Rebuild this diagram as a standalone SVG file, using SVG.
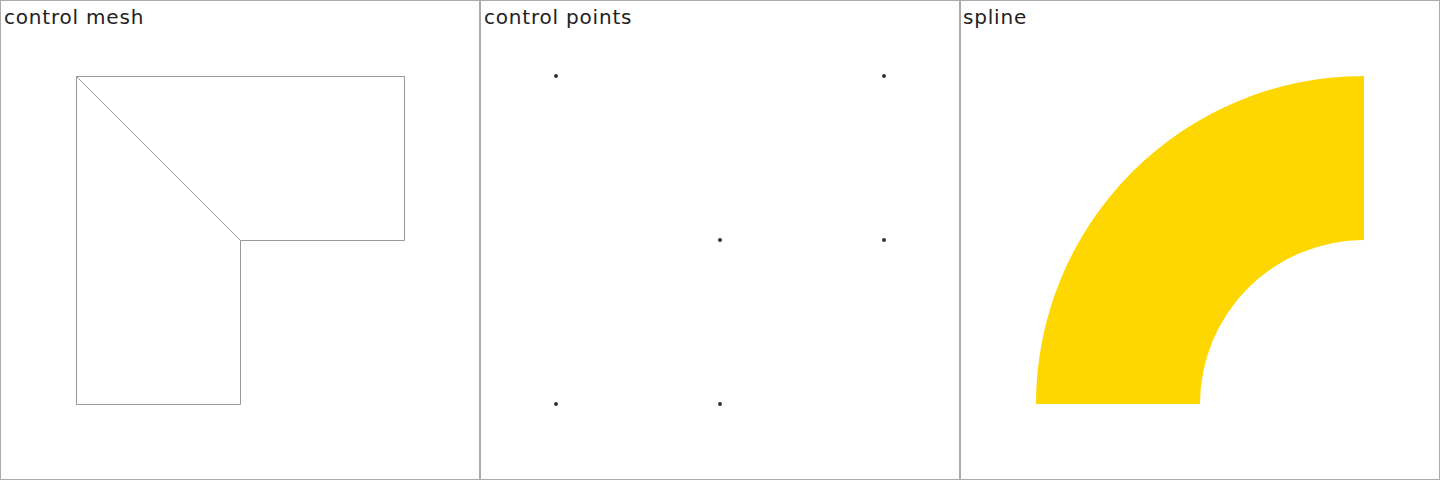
<svg xmlns="http://www.w3.org/2000/svg" width="1440" height="480" viewBox="0 0 1440 480">
<style>
.frame{fill:#fff;stroke:#aaa;stroke-width:1}
.lbl{font-family:"DejaVu Sans","Noto Sans",sans-serif;font-size:20px;letter-spacing:0.8px;fill:#222}
.mesh{fill:none;stroke:#999;stroke-width:1}
.pt{fill:#333}
</style>
<g id="panel-mesh">
<rect class="frame" x="0.5" y="0.5" width="479" height="479"/>
<text class="lbl" x="4" y="24">control mesh</text>
<path class="mesh" d="M76.5 76.5H404.5V240.5H240.5V404.5H76.5Z M76.5 76.5L240.5 240.5"/>
</g>
<g id="panel-points">
<rect class="frame" x="480.5" y="0.5" width="479" height="479"/>
<text class="lbl" x="484" y="24">control points</text>
<circle class="pt" cx="556" cy="76" r="2"/>
<circle class="pt" cx="884" cy="76" r="2"/>
<circle class="pt" cx="720" cy="240" r="2"/>
<circle class="pt" cx="884" cy="240" r="2"/>
<circle class="pt" cx="556" cy="404" r="2"/>
<circle class="pt" cx="720" cy="404" r="2"/>
</g>
<g id="panel-spline">
<rect class="frame" x="960.5" y="0.5" width="479" height="479"/>
<text class="lbl" x="963" y="24">spline</text>
<path fill="#FFD700" d="M1036 404A328 328 0 0 1 1364 76V240A164 164 0 0 0 1200 404Z"/>
</g>
<g id="connectors"/>
</svg>
